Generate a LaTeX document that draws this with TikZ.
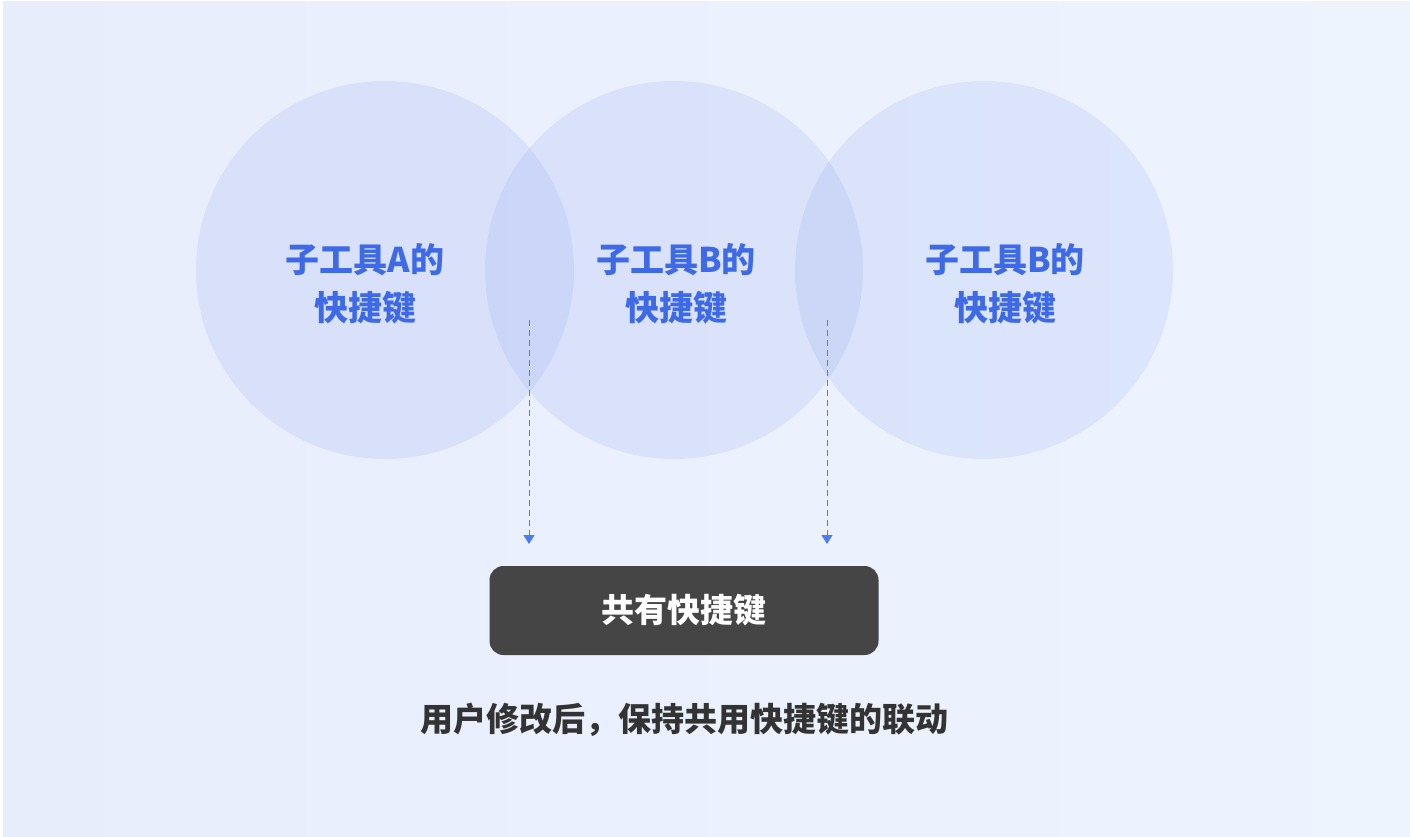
\documentclass[tikz,border=0pt]{standalone}
\usepackage{fontspec}
\newfontfamily\cjk{Noto Sans CJK SC}
\usetikzlibrary{arrows.meta}
\definecolor{bgleft}{HTML}{E8EDFC}
\definecolor{bgright}{HTML}{EDF4FE}
\definecolor{ringblue}{HTML}{6E8AED}
\definecolor{labelblue}{HTML}{3E6AE6}
\definecolor{dashblue}{HTML}{4A7CF5}
\definecolor{boxgray}{HTML}{454545}
\definecolor{notegray}{HTML}{333333}
\tikzset{
  ring/.style={circle, fill=ringblue, fill opacity=0.13, minimum size=378pt, inner sep=0pt},
  ringlabel/.style={text=labelblue, font=\cjk\bfseries\fontsize{34}{48}\selectfont, align=center},
  linkarrow/.style={dashblue, line width=1pt, dash pattern=on 6pt off 4pt, -{Triangle[width=11pt,length=9pt]}},
  keybox/.style={fill=boxgray, rounded corners=14pt, minimum width=389pt, minimum height=89pt, text=white, font=\cjk\bfseries\fontsize{33}{36}\selectfont},
}
\begin{document}
\begin{tikzpicture}[x=1pt,y=-1pt]
      \useasboundingbox (0,0) rectangle (1410,836);
      \fill[white] (0,0) rectangle (1410,836);
      \shade[shading angle=120, left color=bgleft, right color=bgright] (3,1) rectangle (1410,836);

      \node[ring](cA) at ( 385, 270){};
      \node[ring](cB) at ( 674, 270){};
      \node[ring](cC) at ( 984, 270){};

      \node[ringlabel](lA) at ( 365, 284){子工具A的\\快捷键};
      \node[ringlabel](lB) at ( 676, 284){子工具B的\\快捷键};
      \node[ringlabel](lC) at (1005, 284){子工具B的\\快捷键};

      \node[keybox](share) at ( 684, 610.5){共有快捷键};

      \coordinate (sA) at ( 529, 320);
      \coordinate (eA) at ( 529, 544);
      \coordinate (sB) at ( 827, 320);
      \coordinate (eB) at ( 827, 544);

      \draw[linkarrow] (sA) -- (eA);
      \draw[linkarrow] (sB) -- (eB);

      \node[text=notegray, font=\cjk\bfseries\fontsize{33}{36}\selectfont](note) at ( 684, 720){用户修改后，保持共用快捷键的联动};
    \end{tikzpicture}
\end{document}
